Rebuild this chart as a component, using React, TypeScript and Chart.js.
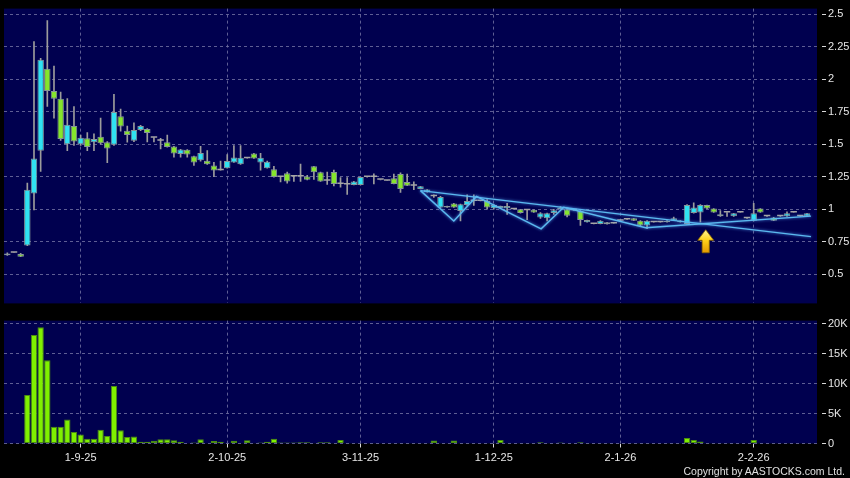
import React, { useEffect, useRef } from 'react';
import { Chart, registerables } from 'chart.js';

Chart.register(...registerables);

// ---------- DATA ----------
const opens = [
  0.645, 0.665, 0.655, 0.72, 1.12, 1.45, 2.08, 1.91, 1.85, 1.5,
  1.64, 1.5, 1.546, 1.515, 1.558, 1.515, 1.496, 1.715, 1.604, 1.526,
  1.609, 1.617, 1.55, 1.526, 1.515, 1.483, 1.425, 1.458, 1.408, 1.377,
  1.372, 1.337, 1.3, 1.315, 1.36, 1.345, 1.392, 1.428, 1.36, 1.315,
  1.307, 1.247, 1.277, 1.252, 1.252, 1.252, 1.33, 1.285, 1.219, 1.287,
  1.194, 1.19, 1.186, 1.186, 1.247, 1.247, 1.226, 1.219, 1.239, 1.27,
  1.209, 1.181, 1.156, 1.131, 1.1, 1.013, 1.025, 1.043, 0.987, 1.032,
  1.063, 1.063, 1.063, 1.008, 1.008, 1.008, 1.0, 1.0, 0.992, 0.995,
  0.937, 0.93, 0.97, 1.0, 1.0, 0.992, 0.987, 0.9, 0.887, 0.887,
  0.9, 0.89, 0.912, 0.92, 0.93, 0.912, 0.874, 0.9, 0.9, 0.9,
  0.912, 0.9, 0.887, 0.97, 0.975, 1.032, 1.005, 0.945, 0.975, 0.945,
  0.975, 0.93, 0.912, 1.005, 0.945, 0.937, 0.945, 0.945, 0.975, 0.945,
  0.945,
];
const highs = [
  0.665, 0.665, 0.66, 1.2, 2.29, 2.16, 2.45, 2.1, 1.9, 1.85,
  1.79, 1.57, 1.59, 1.58, 1.7, 1.52, 1.883, 1.77, 1.64, 1.664,
  1.645, 1.62, 1.55, 1.546, 1.57, 1.483, 1.46, 1.458, 1.408, 1.483,
  1.45, 1.36, 1.37, 1.42, 1.49, 1.49, 1.392, 1.43, 1.43, 1.37,
  1.33, 1.247, 1.285, 1.252, 1.347, 1.26, 1.33, 1.285, 1.285, 1.3,
  1.244, 1.244, 1.214, 1.247, 1.247, 1.272, 1.226, 1.219, 1.27, 1.28,
  1.27, 1.21, 1.176, 1.151, 1.11, 1.1, 1.025, 1.045, 1.04, 1.11,
  1.11, 1.063, 1.075, 1.035, 1.025, 1.045, 1.0, 1.0, 1.0, 0.995,
  0.975, 0.97, 1.0, 1.02, 1.005, 0.992, 0.99, 0.917, 0.887, 0.912,
  0.9, 0.89, 0.912, 0.92, 0.93, 0.912, 0.912, 0.9, 0.9, 0.912,
  0.94, 0.912, 1.035, 1.05, 1.035, 1.032, 1.005, 0.99, 0.975, 0.968,
  0.975, 0.93, 1.045, 1.005, 0.945, 0.937, 0.945, 0.98, 0.975, 0.945,
  0.968,
];
const lows = [
  0.645, 0.665, 0.635, 0.72, 0.995, 1.29, 1.79, 1.7, 1.53, 1.45,
  1.49, 1.49, 1.45, 1.45, 1.5, 1.357, 1.49, 1.6, 1.515, 1.52,
  1.605, 1.518, 1.518, 1.463, 1.478, 1.4, 1.4, 1.4, 1.337, 1.37,
  1.345, 1.25, 1.3, 1.315, 1.36, 1.345, 1.392, 1.39, 1.3, 1.315,
  1.247, 1.21, 1.2, 1.214, 1.214, 1.226, 1.23, 1.214, 1.19, 1.18,
  1.17, 1.113, 1.186, 1.186, 1.247, 1.194, 1.226, 1.219, 1.194, 1.13,
  1.181, 1.15, 1.156, 1.131, 1.09, 1.013, 1.013, 1.013, 0.91, 1.03,
  1.03, 1.063, 1.0, 1.0, 1.008, 0.96, 1.0, 0.97, 0.92, 0.975,
  0.93, 0.91, 0.96, 1.0, 0.94, 0.992, 0.875, 0.9, 0.887, 0.887,
  0.885, 0.89, 0.912, 0.92, 0.912, 0.874, 0.85, 0.9, 0.9, 0.9,
  0.912, 0.9, 0.885, 0.97, 0.9, 1.005, 0.975, 0.945, 0.945, 0.945,
  0.975, 0.93, 0.91, 0.975, 0.945, 0.912, 0.945, 0.945, 0.975, 0.945,
  0.945,
];
const closes = [
  0.66, 0.665, 0.635, 1.15, 1.39, 2.15, 1.91, 1.85, 1.54, 1.65,
  1.52, 1.55, 1.478, 1.54, 1.508, 1.466, 1.747, 1.636, 1.571, 1.609,
  1.64, 1.587, 1.55, 1.526, 1.478, 1.428, 1.46, 1.42, 1.36, 1.432,
  1.345, 1.297, 1.3, 1.37, 1.398, 1.395, 1.392, 1.39, 1.395, 1.365,
  1.247, 1.247, 1.214, 1.252, 1.252, 1.226, 1.285, 1.214, 1.219, 1.194,
  1.194, 1.19, 1.214, 1.247, 1.247, 1.247, 1.226, 1.219, 1.194, 1.156,
  1.181, 1.181, 1.176, 1.151, 1.1, 1.093, 1.013, 1.013, 1.038, 1.063,
  1.063, 1.063, 1.013, 1.032, 1.025, 1.025, 1.0, 0.97, 0.992, 0.975,
  0.968, 0.968, 0.992, 1.013, 0.95, 0.992, 0.917, 0.917, 0.887, 0.912,
  0.885, 0.89, 0.912, 0.92, 0.912, 0.874, 0.912, 0.9, 0.9, 0.912,
  0.93, 0.912, 1.032, 1.013, 1.032, 1.005, 0.975, 0.962, 0.975, 0.968,
  0.975, 0.93, 0.968, 0.975, 0.945, 0.912, 0.945, 0.968, 0.975, 0.945,
  0.968,
];
const volumes = [
  50, 0, 100, 8100, 18100, 19400, 13900, 2800, 2800, 4000,
  1900, 1500, 800, 800, 2300, 1250, 9600, 2200, 1100, 1150,
  300, 300, 450, 700, 700, 550, 300, 100, 150, 700,
  100, 400, 300, 100, 450, 100, 550, 50, 150, 300,
  800, 150, 150, 150, 200, 200, 50, 200, 200, 50,
  600, 50, 50, 50, 0, 30, 0, 0, 50, 50,
  50, 30, 50, 50, 500, 50, 50, 500, 50, 50,
  30, 0, 50, 50, 600, 50, 0, 50, 30, 50,
  200, 50, 50, 150, 50, 0, 200, 50, 0, 50,
  50, 0, 0, 0, 50, 50, 50, 0, 0, 50,
  50, 50, 900, 600, 350, 50, 50, 50, 30, 50,
  0, 0, 600, 50, 0, 50, 0, 50, 0, 0,
  50,
];
const SLOT_COUNT = 122;
const dateTickIndex = [11, 33, 53, 73, 92, 112];
const dateTickLabels = ['1-9-25', '2-10-25', '3-11-25', '1-12-25', '2-1-26', '2-2-26'];
const priceTicks = [0.5, 0.75, 1, 1.25, 1.5, 1.75, 2, 2.25, 2.5];
const volumeTicks = [0, 5000, 10000, 15000, 20000];
const volumeTickLabels = ['0', '5K', '10K', '15K', '20K'];
// drawn trend annotation (index, price)
const patternX = [62.0, 67.0, 70.4, 80.1, 83.5, 95.8, 120.6];
const patternY = [1.143, 0.909, 1.098, 0.849, 1.015, 0.857, 0.947];
const channelX = [62.0, 120.6];
const channelY = [1.143, 0.789];
const arrowX = 104.8;
const arrowTipPrice = 0.842;
const arrowBasePrice = 0.665;

// ---------- STYLE ----------
const PRICE_MIN = 0.2755;
const PRICE_MAX = 2.543;
const VOL_MAX = 20490;
const PANEL_BG = '#00004f';
const GRID = 'rgba(110,110,160,0.85)';
const LABEL = '#e6e6e6';
const FONT = "'Liberation Sans', Arial, sans-serif";
const UP = '#30e2f2';
const DOWN = '#86e52c';
const FLAT = '#a6a6a6';
const WICK = '#9c9c9c';
const BODY_BORDER = '#86969a';
const TREND = '#5bb9ee';

const idx = closes.map((_, i) => i);
const dirOf = (i: number) => (closes[i] > opens[i] ? 1 : closes[i] < opens[i] ? -1 : 0);

const panelBg = {
  id: 'panelBg',
  beforeDraw(chart: any) {
    const { ctx, chartArea: a } = chart;
    ctx.save();
    ctx.fillStyle = PANEL_BG;
    ctx.fillRect(a.left, a.top, a.right - a.left, a.bottom - a.top);
    ctx.restore();
  },
};

const glow = {
  id: 'glow',
  beforeDatasetDraw(chart: any, args: any) {
    if (args.meta.type === 'line') {
      chart.ctx.save();
      chart.ctx.shadowColor = 'rgba(90,170,255,0.9)';
      chart.ctx.shadowBlur = 3;
    }
  },
  afterDatasetDraw(chart: any, args: any) {
    if (args.meta.type === 'line') chart.ctx.restore();
  },
};

const arrowPlugin = {
  id: 'arrow',
  afterDatasetsDraw(chart: any) {
    const { ctx } = chart;
    const x = chart.scales.x.getPixelForValue(arrowX);
    const yTip = chart.scales.y.getPixelForValue(arrowTipPrice);
    const yBase = chart.scales.y.getPixelForValue(arrowBasePrice);
    const h = yBase - yTip;
    const headH = h * 0.46;
    const headW = 8;
    const shaftW = 3.6;
    ctx.save();
    const g = ctx.createLinearGradient(0, yTip, 0, yBase);
    g.addColorStop(0, '#fff59a');
    g.addColorStop(0.45, '#ffd21a');
    g.addColorStop(1, '#e39800');
    ctx.beginPath();
    ctx.moveTo(x, yTip);
    ctx.lineTo(x + headW, yTip + headH);
    ctx.lineTo(x + shaftW, yTip + headH);
    ctx.lineTo(x + shaftW, yBase);
    ctx.lineTo(x - shaftW, yBase);
    ctx.lineTo(x - shaftW, yTip + headH);
    ctx.lineTo(x - headW, yTip + headH);
    ctx.closePath();
    ctx.fillStyle = g;
    ctx.fill();
    ctx.lineWidth = 0.8;
    ctx.strokeStyle = '#8a6400';
    ctx.stroke();
    ctx.restore();
  },
};

const rightTicksGrid = {
  color: GRID,
  tickLength: 9,
  tickColor: '#d8d8d8',
  tickBorderDash: [0, 5, 4],
  tickWidth: 1,
  borderDash: [3, 3],
};

export default function App() {
  const priceRef = useRef<HTMLCanvasElement>(null);
  const volRef = useRef<HTMLCanvasElement>(null);

  useEffect(() => {
    const priceChart = new Chart(priceRef.current as HTMLCanvasElement, {
      type: 'bar',
      data: {
        datasets: [
          {
            type: 'line',
            data: patternX.map((x, i) => ({ x, y: patternY[i] })),
            borderColor: TREND,
            borderWidth: 1.4,
            pointRadius: 0,
            tension: 0,
            order: 0,
          } as any,
          {
            type: 'line',
            data: channelX.map((x, i) => ({ x, y: channelY[i] })),
            borderColor: TREND,
            borderWidth: 1.4,
            pointRadius: 0,
            tension: 0,
            order: 0,
          } as any,
          {
            type: 'bar',
            data: idx.map((i) => ({ x: i, y: [opens[i], closes[i]] })),
            backgroundColor: (c: any) => {
              const d = dirOf(c.dataIndex);
              return d > 0 ? UP : d < 0 ? DOWN : FLAT;
            },
            borderColor: (c: any) => (dirOf(c.dataIndex) === 0 ? FLAT : BODY_BORDER),
            borderWidth: (c: any) => (dirOf(c.dataIndex) === 0 ? 0 : 1),
            borderSkipped: false,
            minBarLength: 1.5,
            grouped: false,
            categoryPercentage: 1,
            barPercentage: 0.97,
            order: 1,
          } as any,
          {
            type: 'bar',
            data: idx.map((i) => ({ x: i, y: [lows[i], highs[i]] })),
            backgroundColor: WICK,
            barThickness: 1,
            grouped: false,
            order: 2,
          } as any,
        ],
      },
      options: {
        responsive: false,
        animation: false,
        devicePixelRatio: 1,
        layout: { autoPadding: false, padding: { left: 4, top: 6, right: 0, bottom: 6 } },
        plugins: { legend: { display: false }, tooltip: { enabled: false } },
        scales: {
          x: {
            type: 'linear',
            offset: false,
            min: -0.5,
            max: SLOT_COUNT - 0.5,
            afterBuildTicks: (s: any) => {
              s.ticks = dateTickIndex.map((v) => ({ value: v }));
            },
            afterFit: (s: any) => {
              s.height = 0;
            },
            ticks: { display: false },
            grid: { color: GRID, drawTicks: false, offset: false, borderDash: [3, 3] } as any,
            border: { display: false, dash: [3, 3] },
          },
          y: {
            type: 'linear',
            position: 'right',
            offset: false,
            min: PRICE_MIN,
            max: PRICE_MAX,
            afterBuildTicks: (s: any) => {
              s.ticks = priceTicks.map((v) => ({ value: v }));
            },
            afterFit: (s: any) => {
              s.width = 33;
            },
            ticks: {
              color: LABEL,
              font: { family: FONT, size: 11 },
              padding: 2,
              callback: (v: any) => String(v),
            },
            grid: rightTicksGrid as any,
            border: { display: false, dash: [3, 3] },
          },
        },
      } as any,
      plugins: [panelBg, glow, arrowPlugin],
    });

    const volChart = new Chart(volRef.current as HTMLCanvasElement, {
      type: 'bar',
      data: {
        datasets: [
          {
            data: idx.map((i) => ({ x: i, y: volumes[i] })),
            backgroundColor: '#80f000',
            borderColor: '#4c8c12',
            borderWidth: 1,
            borderSkipped: false,
            categoryPercentage: 1,
            barPercentage: 0.95,
          } as any,
        ],
      },
      options: {
        responsive: false,
        animation: false,
        devicePixelRatio: 1,
        layout: { autoPadding: false, padding: { left: 4, top: 6, right: 0, bottom: 0 } },
        plugins: { legend: { display: false }, tooltip: { enabled: false } },
        scales: {
          x: {
            type: 'linear',
            offset: false,
            min: -0.5,
            max: SLOT_COUNT - 0.5,
            afterBuildTicks: (s: any) => {
              s.ticks = dateTickIndex.map((v) => ({ value: v }));
            },
            afterFit: (s: any) => {
              s.height = 34.5;
            },
            ticks: {
              color: LABEL,
              font: { family: FONT, size: 11 },
              padding: 4,
              maxRotation: 0,
              autoSkip: false,
              callback: (v: any) => dateTickLabels[dateTickIndex.indexOf(v)] ?? '',
            },
            grid: {
              color: GRID,
              offset: false,
              tickLength: 4,
              tickColor: '#d8d8d8',
              tickBorderDash: [],
              borderDash: [3, 3],
            } as any,
            border: { display: false, dash: [3, 3] },
          },
          y: {
            type: 'linear',
            position: 'right',
            offset: false,
            min: 0,
            max: VOL_MAX,
            afterBuildTicks: (s: any) => {
              s.ticks = volumeTicks.map((v) => ({ value: v }));
            },
            afterFit: (s: any) => {
              s.width = 33;
            },
            ticks: {
              color: LABEL,
              font: { family: FONT, size: 11 },
              padding: 2,
              callback: (v: any) => volumeTickLabels[volumeTicks.indexOf(v)] ?? '',
            },
            grid: rightTicksGrid as any,
            border: { display: false, dash: [3, 3] },
          },
        },
      } as any,
      plugins: [panelBg],
    });

    return () => {
      priceChart.destroy();
      volChart.destroy();
    };
  }, []);

  return (
    <div
      style={{
        position: 'fixed',
        left: 0,
        top: 0,
        width: 850,
        height: 478,
        background: '#000',
        overflow: 'hidden',
      }}
    >
      <canvas
        ref={priceRef}
        width={850}
        height={312}
        style={{ position: 'absolute', left: 0, top: 0, width: 850, height: 312 }}
      />
      <canvas
        ref={volRef}
        width={850}
        height={166}
        style={{ position: 'absolute', left: 0, top: 312, width: 850, height: 166 }}
      />
      <div
        style={{
          position: 'absolute',
          right: 5,
          top: 464,
          fontFamily: FONT,
          fontSize: 10.5,
          lineHeight: '14px',
          color: '#e0e0e0',
          whiteSpace: 'nowrap',
        }}
      >
        Copyright by AASTOCKS.com Ltd.
      </div>
    </div>
  );
}
